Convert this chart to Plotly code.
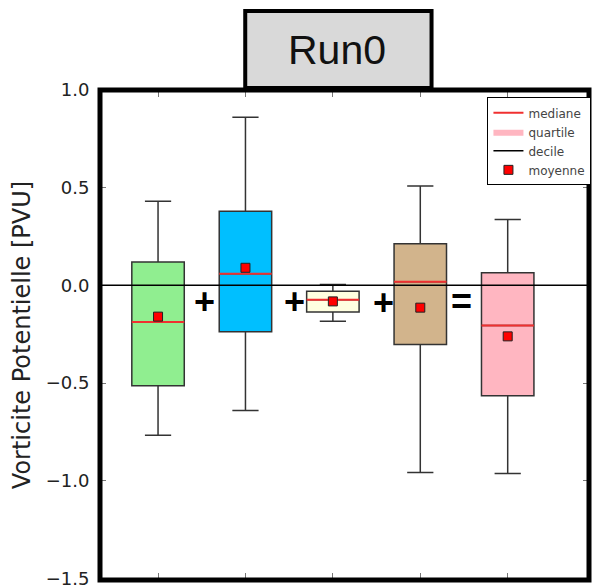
import plotly.graph_objects as go

# ---- data ----
positions = [1, 2, 3, 4, 5]
lower_decile = [-0.767, -0.64, -0.184, -0.958, -0.963]
q1 = [-0.514, -0.238, -0.136, -0.303, -0.565]
median = [-0.187, 0.06, -0.073, 0.019, -0.206]
q3 = [0.12, 0.38, -0.03, 0.213, 0.065]
upper_decile = [0.43, 0.86, 0.004, 0.508, 0.337]
mean = [-0.16, 0.09, -0.082, -0.114, -0.261]
box_colors = ["#90EE90", "#00BFFF", "#FFFFE0", "#D2B48C", "#FFB6C1"]

operators = ["+", "+", "+", "="]
operator_x = [1.53, 2.56, 3.58, 4.47]
operator_y = [-0.083, -0.083, -0.09, -0.083]

y_ticks = [1.0, 0.5, 0.0, -0.5, -1.0, -1.5]
y_ticklabels = ["1.0", "0.5", "0.0", "\u22120.5", "\u22121.0", "\u22121.5"]

title_text = "Run0"
y_title = "Vorticite Potentielle [PVU]"
legend_labels = ["mediane", "quartile", "decile", "moyenne"]

BOX_W = 0.6

fig = go.Figure()

for i, p in enumerate(positions):
    fig.add_trace(go.Box(
        x=[p], q1=[q1[i]], median=[median[i]], q3=[q3[i]],
        lowerfence=[lower_decile[i]], upperfence=[upper_decile[i]],
        width=BOX_W, whiskerwidth=0.5, fillcolor=box_colors[i],
        line=dict(color="#333333", width=1.5), boxpoints=False,
        showlegend=False, hoverinfo="skip",
    ))

# median lines (red)
for i, p in enumerate(positions):
    fig.add_trace(go.Scatter(
        x=[p - BOX_W / 2, p + BOX_W / 2], y=[median[i], median[i]],
        mode="lines", line=dict(color="#F03030", width=2),
        name=legend_labels[0], legendgroup="med", showlegend=(i == 0),
        legendrank=1, hoverinfo="skip",
    ))

# legend-only entries
fig.add_trace(go.Scatter(
    x=[None], y=[None], mode="lines", fill="toself",
    fillcolor="#FFB6C1", line=dict(width=0, color="#FFB6C1"),
    name=legend_labels[1], legendrank=2,
))
fig.add_trace(go.Scatter(
    x=[None], y=[None], mode="lines", line=dict(color="black", width=1.5),
    name=legend_labels[2], legendrank=3,
))

# means
fig.add_trace(go.Scatter(
    x=positions, y=mean, mode="markers",
    marker=dict(symbol="square", size=9, color="red",
                line=dict(color="#222222", width=1)),
    name=legend_labels[3], legendrank=4, hoverinfo="skip",
))

annotations = []
for op, ox, oy in zip(operators, operator_x, operator_y):
    annotations.append(dict(
        x=ox, y=oy, xref="x", yref="y", text="<b>%s</b>" % op,
        showarrow=False, font=dict(family="Liberation Sans", size=36, color="black"),
        xanchor="center", yanchor="middle",
    ))
annotations.append(dict(
    x=0.4855, y=1.082, xref="paper", yref="paper", text=title_text,
    showarrow=False, font=dict(family="Liberation Sans", size=41, color="#111111"),
    xanchor="center", yanchor="middle",
))

shapes = [
    dict(type="line", xref="paper", yref="y", x0=0, x1=1, y0=0, y1=0,
         line=dict(color="black", width=1.5), layer="above"),
    dict(type="rect", xref="paper", yref="paper", x0=0, x1=1, y0=0, y1=1,
         line=dict(color="black", width=5), layer="above"),
    dict(type="rect", xref="paper", yref="paper", x0=0.297, x1=0.678,
         y0=1.004, y1=1.161, fillcolor="#D9D9D9",
         line=dict(color="black", width=4), layer="above"),
]

fig.update_layout(
    width=594, height=587,
    margin=dict(l=100, r=3, t=90, b=7),
    paper_bgcolor="white", plot_bgcolor="white",
    showlegend=True,
    legend=dict(
        x=1.005, y=0.985, xanchor="right", yanchor="top",
        bgcolor="white", bordercolor="black", borderwidth=1,
        font=dict(family="DejaVu Sans", size=12, color="#444444"),
        tracegroupgap=0, itemwidth=30,
    ),
    annotations=annotations,
    shapes=shapes,
    xaxis=dict(
        range=[0.336, 5.93], tickvals=positions, ticktext=[""] * 5,
        ticks="inside", ticklen=7, tickcolor="#777777", mirror="ticks",
        showgrid=False, zeroline=False, showline=False, automargin=False,
    ),
    yaxis=dict(
        range=[-1.508, 1.0], tickvals=y_ticks, ticktext=y_ticklabels,
        ticks="inside", ticklen=6, tickcolor="#777777", mirror="ticks",
        showgrid=False, zeroline=False, showline=True, linecolor="#888888",
        linewidth=1, automargin=False,
        tickfont=dict(family="DejaVu Sans", size=18, color="#222222"),
        ticklabelstandoff=6, ticklabeloverflow="allow",
        title=dict(text=y_title, standoff=8,
                   font=dict(family="DejaVu Sans", size=24, color="#222222")),
    ),
)

fig.write_html("out.html")
